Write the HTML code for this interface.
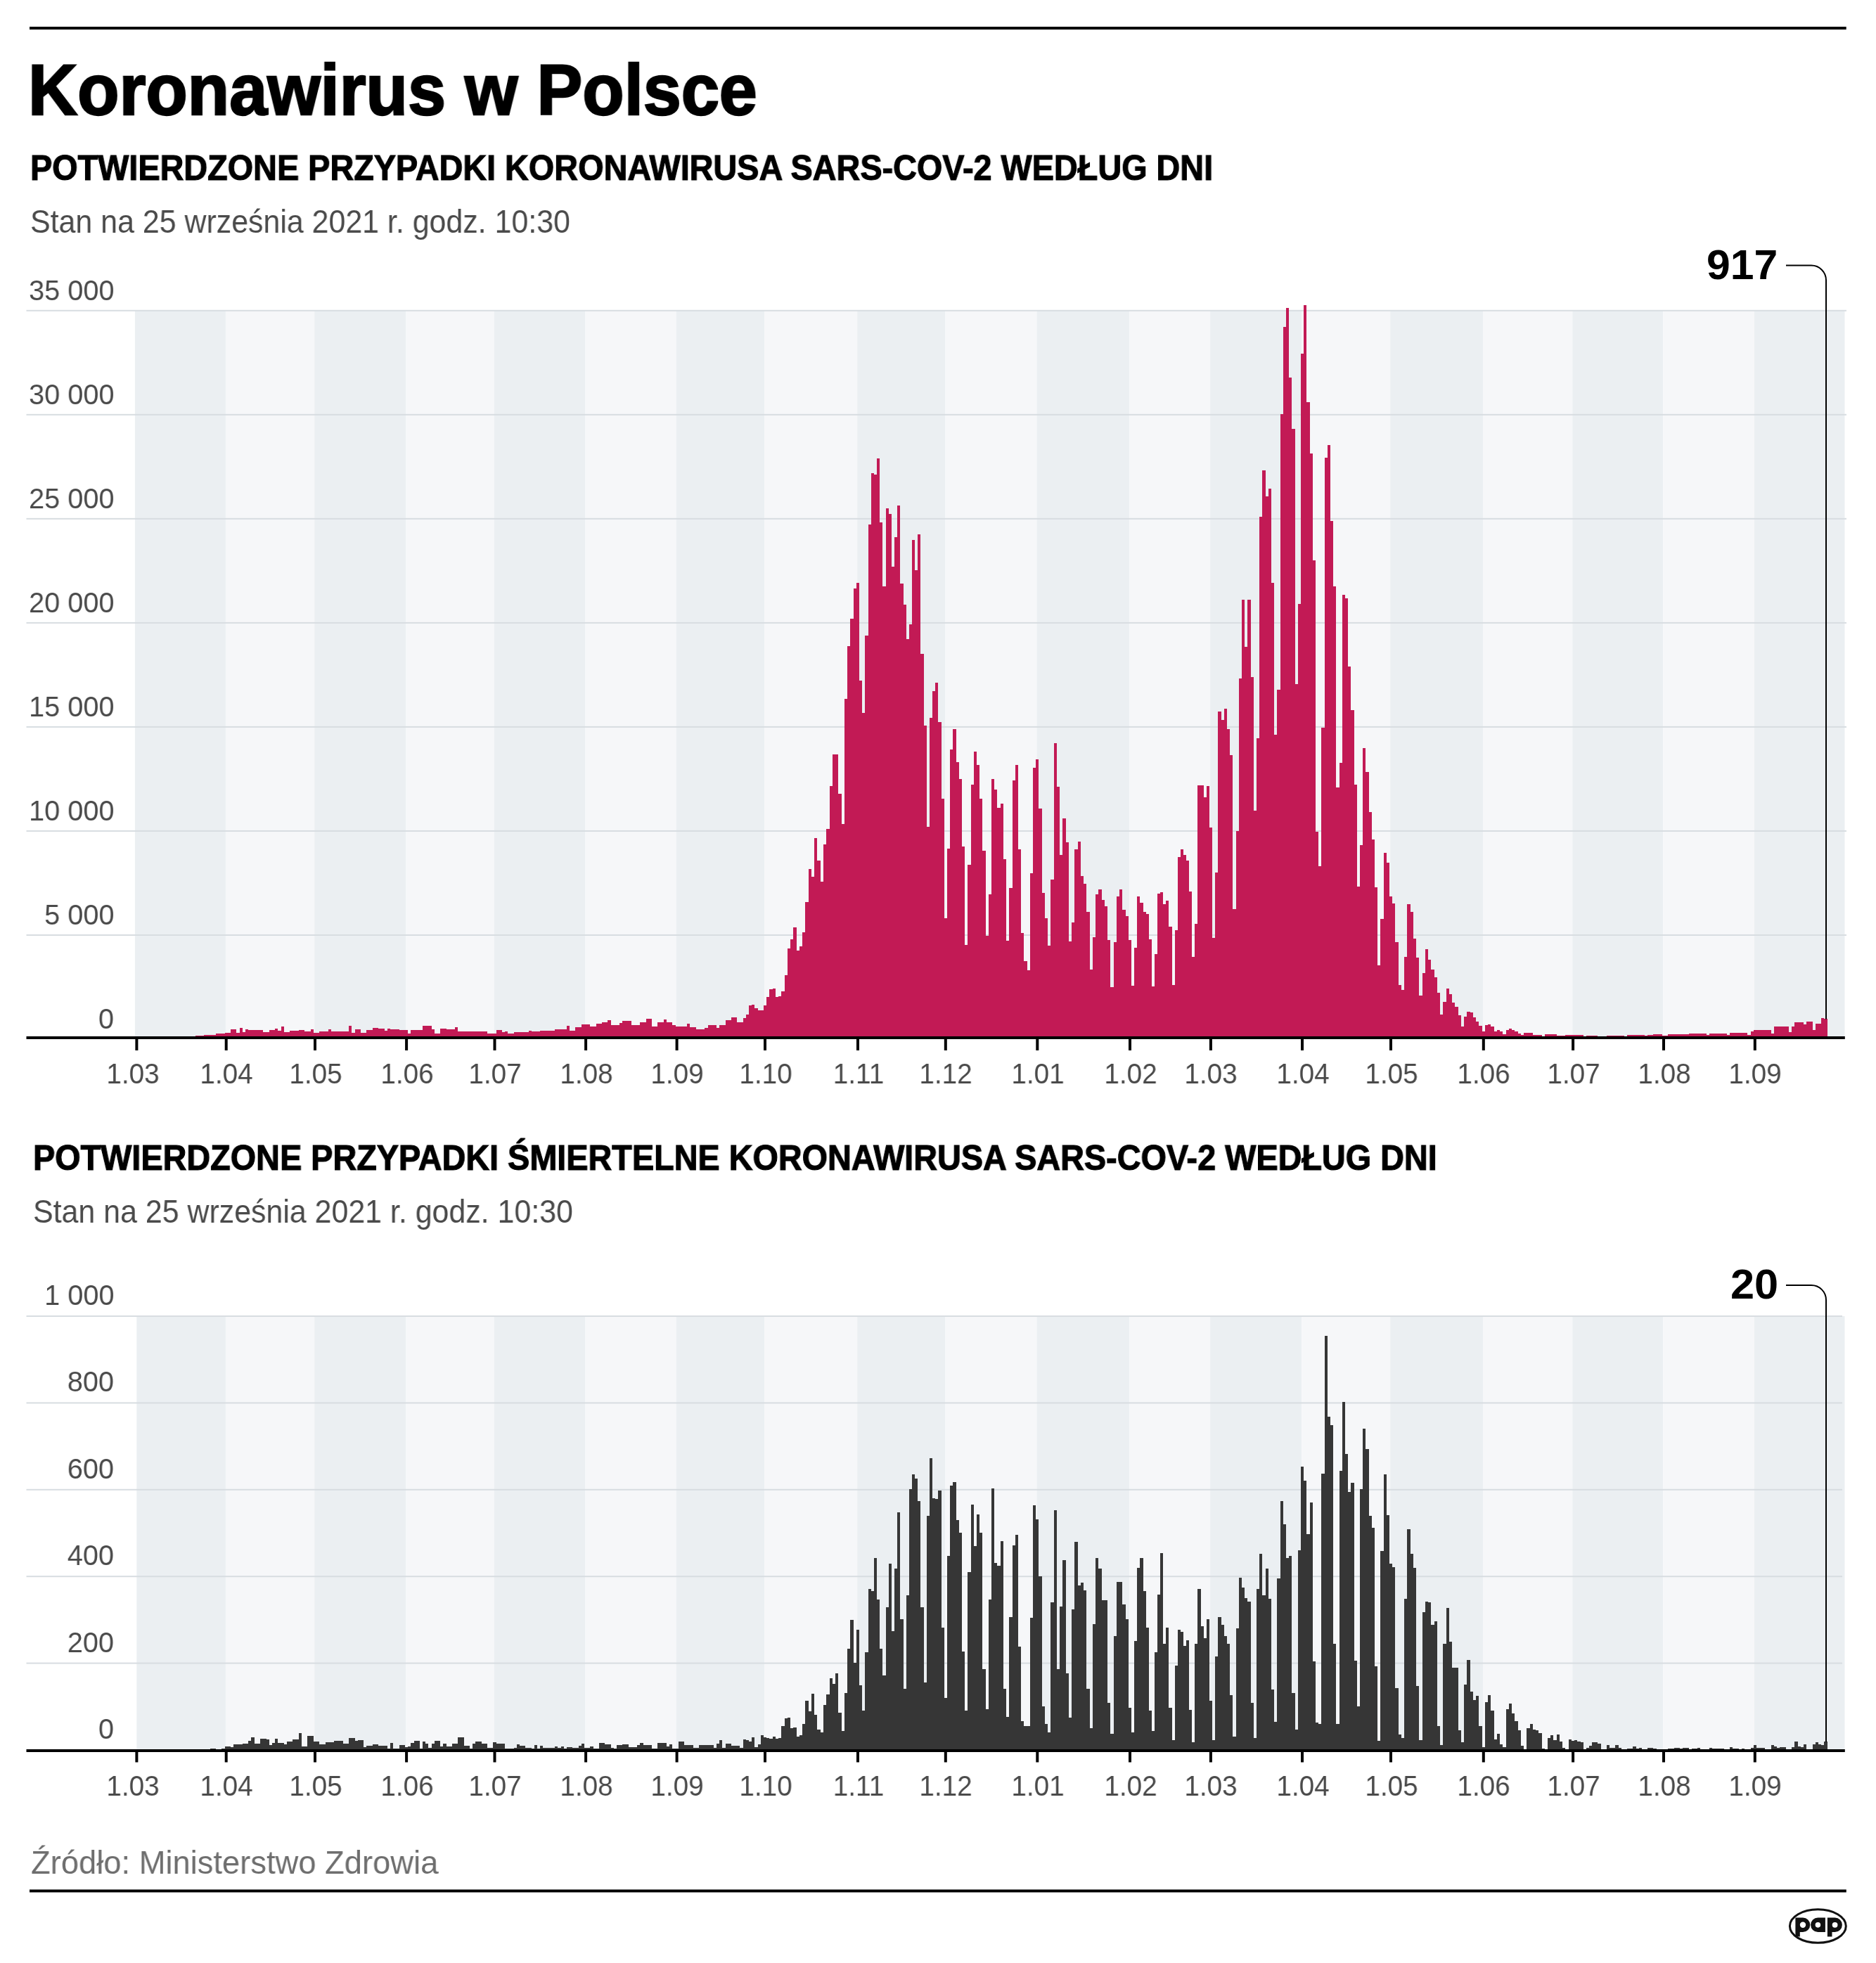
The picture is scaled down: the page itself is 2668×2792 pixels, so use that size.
<!DOCTYPE html>
<html><head><meta charset="utf-8"><style>
html,body{margin:0;padding:0;background:#fff;width:2668px;height:2792px;overflow:hidden}
svg{position:absolute;left:0;top:0}
.t{position:absolute;white-space:nowrap;font-family:"Liberation Sans",sans-serif;line-height:1;will-change:transform}
</style></head><body>
<svg width="2668" height="2792" viewBox="0 0 2668 2792">
<rect x="42" y="38" width="2583.7" height="4" fill="#000"/>
<rect x="42" y="2687.5" width="2583.8" height="4" fill="#000"/>
<rect x="191.90" y="441.80" width="129.00" height="1032.20" fill="#ebeff2"/>
<rect x="320.90" y="441.80" width="126.30" height="1032.20" fill="#f6f7f9"/>
<rect x="447.20" y="441.80" width="130.10" height="1032.20" fill="#ebeff2"/>
<rect x="577.30" y="441.80" width="125.40" height="1032.20" fill="#f6f7f9"/>
<rect x="702.70" y="441.80" width="129.60" height="1032.20" fill="#ebeff2"/>
<rect x="832.30" y="441.80" width="129.50" height="1032.20" fill="#f6f7f9"/>
<rect x="961.80" y="441.80" width="125.40" height="1032.20" fill="#ebeff2"/>
<rect x="1087.20" y="441.80" width="132.00" height="1032.20" fill="#f6f7f9"/>
<rect x="1219.20" y="441.80" width="124.80" height="1032.20" fill="#ebeff2"/>
<rect x="1344.00" y="441.80" width="130.50" height="1032.20" fill="#f6f7f9"/>
<rect x="1474.50" y="441.80" width="131.70" height="1032.20" fill="#ebeff2"/>
<rect x="1606.20" y="441.80" width="114.90" height="1032.20" fill="#f6f7f9"/>
<rect x="1721.10" y="441.80" width="130.10" height="1032.20" fill="#ebeff2"/>
<rect x="1851.20" y="441.80" width="126.00" height="1032.20" fill="#f6f7f9"/>
<rect x="1977.20" y="441.80" width="131.80" height="1032.20" fill="#ebeff2"/>
<rect x="2109.00" y="441.80" width="127.30" height="1032.20" fill="#f6f7f9"/>
<rect x="2236.30" y="441.80" width="128.90" height="1032.20" fill="#ebeff2"/>
<rect x="2365.20" y="441.80" width="129.80" height="1032.20" fill="#f6f7f9"/>
<rect x="2495.00" y="441.80" width="128.50" height="1032.20" fill="#ebeff2"/>
<rect x="37.5" y="440.80" width="2588.50" height="2" fill="#d8dde1"/>
<rect x="37.5" y="588.83" width="2588.50" height="2" fill="#d8dde1"/>
<rect x="37.5" y="736.86" width="2588.50" height="2" fill="#d8dde1"/>
<rect x="37.5" y="884.89" width="2588.50" height="2" fill="#d8dde1"/>
<rect x="37.5" y="1032.92" width="2588.50" height="2" fill="#d8dde1"/>
<rect x="37.5" y="1180.95" width="2588.50" height="2" fill="#d8dde1"/>
<rect x="37.5" y="1328.98" width="2588.50" height="2" fill="#d8dde1"/>
<path d="M189.80 1478.00V1478.00H194.00V1478.00H198.18V1478.00H202.37V1478.00H206.56V1478.00H210.75V1478.00H214.93V1478.00H219.12V1478.00H223.31V1478.00H227.49V1478.00H231.68V1478.00H235.87V1478.00H240.06V1478.00H244.24V1478.00H248.43V1478.00H252.62V1478.00H256.80V1478.00H260.99V1478.00H265.18V1478.00H269.37V1478.00H273.55V1478.00H277.74V1472.72H281.93V1472.72H286.11V1472.72H290.30V1471.52H294.49V1471.52H298.68V1471.52H302.86V1471.52H307.05V1469.84H311.24V1469.84H315.42V1469.84H319.61V1469.12H323.80V1469.12H328.01V1464.33H332.22V1464.33H336.43V1469.12H340.64V1461.93H344.85V1467.93H349.06V1463.85H353.27V1464.81H357.48V1464.81H361.69V1464.81H365.90V1464.81H370.11V1464.81H374.32V1467.93H378.53V1467.93H382.74V1465.05H386.95V1465.05H391.16V1462.65H395.37V1465.53H399.58V1460.25H403.79V1467.93H408.00V1467.93H412.21V1465.53H416.42V1465.53H420.63V1465.53H424.84V1464.81H429.05V1464.81H433.26V1467.21H437.47V1467.21H441.68V1463.85H445.89V1469.12H450.10V1469.12H454.29V1466.73H458.49V1466.73H462.69V1466.73H466.88V1463.85H471.08V1466.73H475.28V1466.73H479.48V1466.73H483.67V1466.73H487.87V1466.73H492.07V1466.73H496.26V1458.81H500.46V1468.65H504.66V1463.85H508.85V1463.85H513.05V1468.65H517.25V1468.65H521.44V1464.81H525.64V1464.81H529.84V1462.41H534.03V1462.41H538.23V1463.13H542.43V1463.13H546.62V1465.53H550.82V1463.13H555.02V1464.33H559.21V1464.33H563.41V1464.33H567.61V1465.05H571.80V1465.05H576.00V1465.05H580.20V1470.32H584.38V1464.81H588.56V1464.81H592.74V1465.05H596.92V1465.05H601.10V1458.81H605.28V1458.81H609.46V1458.81H613.64V1464.33H617.82V1470.32H622.00V1470.32H626.18V1463.13H630.36V1463.13H634.54V1464.33H638.72V1464.33H642.90V1464.33H647.08V1461.21H651.26V1467.21H655.44V1467.21H659.62V1467.21H663.80V1467.21H667.98V1467.45H672.16V1467.45H676.34V1467.45H680.52V1467.45H684.70V1467.45H688.88V1466.73H693.06V1469.60H697.24V1469.60H701.42V1469.60H705.60V1465.05H709.78V1465.05H713.96V1467.93H718.14V1467.21H722.32V1469.60H726.50V1469.60H730.68V1467.93H734.86V1467.93H739.04V1467.93H743.22V1467.93H747.40V1467.93H751.58V1465.53H755.77V1467.45H759.95V1467.45H764.13V1467.45H768.31V1466.01H772.49V1466.01H776.67V1466.01H780.85V1466.01H785.03V1466.01H789.21V1463.85H793.39V1463.85H797.57V1463.85H801.75V1463.85H805.93V1459.05H810.11V1465.53H814.29V1465.53H818.48V1461.21H822.66V1461.21H826.84V1457.13H831.02V1457.13H835.20V1457.13H839.38V1459.53H843.55V1459.53H847.73V1455.93H851.91V1455.93H856.08V1453.53H860.26V1453.53H864.44V1451.13H868.62V1457.85H872.79V1457.85H876.97V1457.85H881.15V1454.73H885.33V1451.85H889.50V1451.85H893.68V1451.85H897.86V1458.33H902.04V1458.33H906.21V1458.33H910.39V1454.25H914.57V1454.25H918.75V1449.46H922.92V1449.46H927.10V1459.53H931.28V1459.53H935.46V1454.25H939.63V1454.25H943.81V1450.42H947.99V1453.53H952.17V1453.53H956.34V1457.61H960.52V1459.53H964.70V1459.53H968.88V1459.53H973.06V1459.53H977.24V1455.93H981.42V1460.73H985.60V1460.73H989.78V1464.33H993.96V1464.33H998.14V1464.33H1002.32V1461.93H1006.50V1458.33H1010.68V1458.33H1014.86V1458.33H1019.04V1461.93H1023.22V1457.85H1027.40V1457.85H1031.58V1451.13H1035.76V1451.13H1039.94V1446.82H1044.12V1446.82H1048.30V1454.25H1052.48V1454.25H1056.66V1447.54H1060.84V1442.74H1065.02V1429.55H1069.20V1428.85H1073.38V1434.18H1077.56V1436.85H1081.74V1436.85H1085.92V1429.68H1090.10V1417.51H1094.36V1407.18H1098.61V1406.38H1102.87V1418.31H1107.13V1416.98H1111.39V1409.55H1115.65V1386.52H1119.90V1349.42H1124.16V1336.19H1128.42V1319.49H1132.68V1352.09H1136.94V1345.99H1141.19V1326.09H1145.45V1282.66H1149.71V1236.30H1153.97V1247.43H1158.23V1191.80H1162.48V1223.60H1166.74V1254.06H1171.00V1201.07H1175.26V1178.83H1179.52V1118.17H1183.78V1073.14H1188.03V1073.14H1192.29V1128.50H1196.55V1171.93H1200.81V993.65H1205.07V919.48H1209.32V879.75H1213.58V836.56H1217.84V828.59H1222.10V967.98H1226.26V1014.31H1230.42V903.58H1234.58V745.67H1238.74V673.07H1242.90V674.94H1247.06V651.61H1251.22V743.03H1255.38V833.89H1259.54V722.63H1263.70V730.57H1267.86V805.56H1272.02V764.23H1276.18V719.44H1280.34V829.92H1284.50V860.39H1288.66V909.42H1292.82V888.22H1296.98V767.66H1301.14V811.36H1305.30V760.23H1309.46V930.08H1313.62V1031.54H1317.78V1175.90H1321.94V1021.48H1326.10V982.54H1330.26V971.15H1334.42V1027.04H1338.58V1136.17H1342.74V1305.72H1346.90V1206.90H1351.11V1065.97H1355.32V1037.37H1359.53V1083.74H1363.74V1108.37H1367.95V1204.26H1372.16V1344.12H1376.37V1230.23H1380.58V1116.30H1384.78V1069.14H1388.99V1088.47H1393.20V1135.64H1397.41V1210.33H1401.62V1330.86H1405.83V1271.79H1410.04V1107.57H1414.25V1122.94H1418.46V1149.40H1422.67V1142.80H1426.88V1222.26H1431.09V1338.29H1435.30V1263.33H1439.51V1110.47H1443.72V1088.47H1447.93V1207.70H1452.14V1326.89H1456.35V1367.42H1460.56V1379.89H1464.77V1242.13H1468.98V1092.47H1473.19V1079.74H1477.40V1150.20H1481.65V1270.46H1485.89V1305.70H1490.14V1344.64H1494.39V1250.60H1498.64V1057.22H1502.89V1119.47H1507.14V1215.63H1511.38V1163.97H1515.63V1197.62H1519.88V1339.34H1524.13V1311.52H1528.38V1208.21H1532.63V1197.09H1536.88V1245.56H1541.12V1257.22H1545.37V1296.95H1549.62V1379.07H1553.87V1332.98H1558.12V1271.79H1562.37V1264.64H1566.61V1280.00H1570.86V1289.01H1575.11V1337.48H1579.36V1404.24H1583.61V1339.60H1587.86V1275.23H1592.10V1264.64H1596.35V1294.30H1600.60V1303.05H1604.85V1336.95H1609.10V1401.85H1613.20V1348.08H1617.30V1275.23H1621.41V1283.71H1625.51V1296.95H1629.62V1299.60H1633.72V1336.16H1637.82V1403.18H1641.93V1356.56H1646.03V1271.26H1650.13V1269.14H1654.24V1286.36H1658.34V1281.32H1662.44V1318.15H1666.55V1400.53H1670.65V1322.91H1674.75V1219.07H1678.86V1208.21H1682.96V1216.42H1687.07V1224.37H1691.17V1268.08H1695.27V1360.53H1699.38V1313.64H1703.48V1116.82H1707.58V1116.82H1711.69V1134.30H1715.79V1118.41H1719.89V1177.22H1724.00V1334.30H1728.19V1241.32H1732.39V1012.19H1736.59V1024.37H1740.78V1008.21H1744.98V1036.82H1749.18V1074.44H1753.38V1292.98H1757.57V1181.72H1761.77V964.77H1765.97V853.25H1770.16V919.99H1774.36V853.25H1778.56V962.86H1782.75V1153.37H1786.95V1050.07H1791.15V734.83H1795.34V669.13H1799.54V706.23H1803.74V694.80H1807.93V829.39H1812.13V1044.81H1816.33V980.62H1820.52V588.87H1824.72V465.15H1828.92V437.56H1833.11V536.68H1837.31V610.31H1841.51V973.25H1845.70V858.52H1849.90V503.04H1854.10V434.36H1858.30V571.91H1862.50V645.30H1866.70V797.09H1870.90V1182.50H1875.10V1231.53H1879.30V1034.98H1883.50V651.10H1887.70V633.37H1891.90V740.66H1896.10V833.89H1900.30V1120.27H1904.50V1084.51H1908.70V846.09H1912.90V851.12H1917.10V948.05H1921.30V1009.54H1925.50V1116.29H1929.70V1260.66H1933.90V1202.38H1938.10V1064.11H1942.30V1098.28H1946.50V1154.70H1950.70V1194.44H1954.90V1261.99H1959.10V1373.25H1963.30V1307.02H1967.50V1212.98H1971.70V1227.02H1975.90V1275.23H1980.10V1284.50H1984.35V1340.13H1988.60V1401.06H1992.85V1407.68H1997.10V1360.79H2001.36V1286.36H2005.61V1296.95H2009.86V1334.83H2014.11V1362.12H2018.36V1415.63H2022.61V1384.37H2026.87V1349.93H2031.12V1365.30H2035.37V1378.54H2039.62V1390.46H2043.87V1411.66H2048.12V1443.44H2052.38V1424.90H2056.63V1406.36H2060.88V1414.30H2065.13V1426.23H2069.38V1431.52H2073.63V1444.24H2077.88V1460.13H2082.14V1446.09H2086.39V1438.94H2090.64V1440.00H2094.89V1447.42H2099.14V1452.72H2103.39V1459.34H2107.65V1467.28H2111.90V1458.01H2116.14V1456.69H2120.38V1460.13H2124.63V1467.28H2128.87V1464.64H2133.11V1467.28H2137.36V1471.26H2141.60V1464.64H2145.84V1463.31H2150.09V1464.64H2154.33V1466.75H2158.57V1469.54H2162.82V1471.99H2167.06V1469.05H2171.30V1469.05H2175.55V1469.05H2179.79V1471.50H2184.03V1471.50H2188.28V1471.50H2192.52V1473.95H2196.76V1471.01H2201.01V1471.01H2205.25V1471.01H2209.49V1471.01H2213.74V1473.46H2217.98V1473.46H2222.22V1473.46H2226.47V1472.48H2230.71V1472.48H2234.95V1472.48H2239.20V1472.48H2243.36V1472.48H2247.51V1472.48H2251.67V1473.95H2255.83V1472.97H2259.99V1472.97H2264.15V1472.97H2268.30V1472.97H2272.46V1473.95H2276.62V1473.95H2280.78V1473.95H2284.94V1472.97H2289.09V1472.97H2293.25V1472.97H2297.41V1472.97H2301.57V1472.97H2305.73V1472.97H2309.88V1473.95H2314.04V1472.24H2318.20V1472.24H2322.36V1472.24H2326.52V1472.24H2330.68V1472.24H2334.83V1472.24H2338.99V1473.46H2343.15V1472.24H2347.31V1472.24H2351.47V1471.01H2355.62V1471.01H2359.78V1471.01H2363.94V1472.97H2368.10V1472.97H2372.28V1471.01H2376.47V1471.01H2380.66V1471.01H2384.85V1471.01H2389.03V1471.01H2393.22V1471.01H2397.41V1471.01H2401.59V1470.03H2405.78V1470.03H2409.97V1470.03H2414.16V1470.03H2418.34V1470.03H2422.53V1470.03H2426.72V1471.99H2430.90V1470.03H2435.09V1470.03H2439.28V1470.03H2443.47V1470.03H2447.65V1470.03H2451.84V1470.03H2456.03V1472.48H2460.21V1468.56H2464.40V1468.56H2468.59V1468.56H2472.78V1468.56H2476.96V1468.56H2481.15V1468.56H2485.34V1471.50H2489.52V1466.60H2493.71V1464.88H2497.90V1464.88H2502.09V1464.88H2506.29V1464.88H2510.48V1464.88H2514.68V1464.88H2518.88V1470.28H2523.07V1460.47H2527.27V1460.47H2531.46V1460.47H2535.66V1460.47H2539.85V1460.47H2544.05V1467.82H2548.25V1459.73H2552.44V1453.60H2556.64V1453.60H2560.83V1453.60H2565.03V1456.79H2569.22V1452.62H2573.42V1452.62H2577.62V1465.37H2581.81V1455.56H2586.01V1455.56H2590.20V1448.20H2594.40V1449.43H2598.59V1478.00Z" fill="#c21a55" shape-rendering="crispEdges"/>
<rect x="37.5" y="1474.00" width="2586.30" height="4" fill="#000"/>
<rect x="192.40" y="1478.00" width="4" height="16.00" fill="#000"/>
<rect x="319.70" y="1478.00" width="4" height="16.00" fill="#000"/>
<rect x="446.00" y="1478.00" width="4" height="16.00" fill="#000"/>
<rect x="576.10" y="1478.00" width="4" height="16.00" fill="#000"/>
<rect x="701.50" y="1478.00" width="4" height="16.00" fill="#000"/>
<rect x="831.10" y="1478.00" width="4" height="16.00" fill="#000"/>
<rect x="960.60" y="1478.00" width="4" height="16.00" fill="#000"/>
<rect x="1086.00" y="1478.00" width="4" height="16.00" fill="#000"/>
<rect x="1218.00" y="1478.00" width="4" height="16.00" fill="#000"/>
<rect x="1342.80" y="1478.00" width="4" height="16.00" fill="#000"/>
<rect x="1473.30" y="1478.00" width="4" height="16.00" fill="#000"/>
<rect x="1605.00" y="1478.00" width="4" height="16.00" fill="#000"/>
<rect x="1719.90" y="1478.00" width="4" height="16.00" fill="#000"/>
<rect x="1850.00" y="1478.00" width="4" height="16.00" fill="#000"/>
<rect x="1976.00" y="1478.00" width="4" height="16.00" fill="#000"/>
<rect x="2107.80" y="1478.00" width="4" height="16.00" fill="#000"/>
<rect x="2235.10" y="1478.00" width="4" height="16.00" fill="#000"/>
<rect x="2364.00" y="1478.00" width="4" height="16.00" fill="#000"/>
<rect x="2493.80" y="1478.00" width="4" height="16.00" fill="#000"/>
<rect x="194.30" y="1872.00" width="126.60" height="616.00" fill="#ebeff2"/>
<rect x="320.90" y="1872.00" width="126.30" height="616.00" fill="#f6f7f9"/>
<rect x="447.20" y="1872.00" width="130.10" height="616.00" fill="#ebeff2"/>
<rect x="577.30" y="1872.00" width="125.40" height="616.00" fill="#f6f7f9"/>
<rect x="702.70" y="1872.00" width="129.60" height="616.00" fill="#ebeff2"/>
<rect x="832.30" y="1872.00" width="129.50" height="616.00" fill="#f6f7f9"/>
<rect x="961.80" y="1872.00" width="125.40" height="616.00" fill="#ebeff2"/>
<rect x="1087.20" y="1872.00" width="132.00" height="616.00" fill="#f6f7f9"/>
<rect x="1219.20" y="1872.00" width="124.80" height="616.00" fill="#ebeff2"/>
<rect x="1344.00" y="1872.00" width="130.50" height="616.00" fill="#f6f7f9"/>
<rect x="1474.50" y="1872.00" width="131.70" height="616.00" fill="#ebeff2"/>
<rect x="1606.20" y="1872.00" width="114.90" height="616.00" fill="#f6f7f9"/>
<rect x="1721.10" y="1872.00" width="130.10" height="616.00" fill="#ebeff2"/>
<rect x="1851.20" y="1872.00" width="126.00" height="616.00" fill="#f6f7f9"/>
<rect x="1977.20" y="1872.00" width="131.80" height="616.00" fill="#ebeff2"/>
<rect x="2109.00" y="1872.00" width="127.30" height="616.00" fill="#f6f7f9"/>
<rect x="2236.30" y="1872.00" width="128.90" height="616.00" fill="#ebeff2"/>
<rect x="2365.20" y="1872.00" width="129.80" height="616.00" fill="#f6f7f9"/>
<rect x="2495.00" y="1872.00" width="128.50" height="616.00" fill="#ebeff2"/>
<rect x="37.5" y="1871.00" width="2582.50" height="2" fill="#d8dde1"/>
<rect x="37.5" y="1994.40" width="2582.50" height="2" fill="#d8dde1"/>
<rect x="37.5" y="2117.80" width="2582.50" height="2" fill="#d8dde1"/>
<rect x="37.5" y="2241.20" width="2582.50" height="2" fill="#d8dde1"/>
<rect x="37.5" y="2364.60" width="2582.50" height="2" fill="#d8dde1"/>
<path d="M189.80 2489.00V2489.00H194.00V2489.00H198.18V2489.00H202.37V2489.00H206.56V2489.00H210.75V2489.00H214.93V2489.00H219.12V2489.00H223.31V2489.00H227.49V2489.00H231.68V2489.00H235.87V2489.00H240.06V2489.00H244.24V2489.00H248.43V2489.00H252.62V2489.00H256.80V2489.00H260.99V2489.00H265.18V2489.00H269.37V2489.00H273.55V2489.00H277.74V2489.00H281.93V2489.00H286.11V2489.00H290.30V2489.00H294.49V2489.00H298.68V2487.08H302.86V2487.08H307.05V2489.00H311.24V2489.00H315.42V2487.08H319.61V2484.20H323.80V2484.20H328.01V2485.16H332.22V2481.08H336.43V2481.08H340.64V2481.08H344.85V2480.36H349.06V2480.36H353.27V2475.57H357.48V2471.25H361.69V2480.36H365.90V2480.36H370.11V2473.17H374.32V2473.17H378.53V2474.37H382.74V2481.56H386.95V2479.16H391.16V2472.69H395.37V2479.16H399.58V2479.16H403.79V2481.08H408.00V2477.25H412.21V2477.25H416.42V2474.37H420.63V2474.37H424.84V2465.25H429.05V2483.96H433.26V2483.96H437.47V2468.85H441.68V2468.85H445.89V2477.49H450.10V2477.49H454.29V2481.08H458.49V2481.08H462.69V2477.97H466.88V2477.97H471.08V2477.97H475.28V2476.05H479.48V2476.05H483.67V2476.05H487.87V2480.36H492.07V2480.36H496.26V2472.45H500.46V2472.45H504.66V2475.57H508.85V2474.85H513.05V2474.85H517.25V2484.68H521.44V2482.76H525.64V2482.76H529.84V2481.08H534.03V2481.08H538.23V2483.24H542.43V2483.24H546.62V2483.24H550.82V2487.08H555.02V2479.16H559.21V2487.08H563.41V2487.08H567.61V2481.56H571.80V2481.56H576.00V2484.68H580.20V2483.96H584.38V2479.16H588.56V2475.57H592.74V2475.57H596.92V2487.08H601.10V2477.25H605.28V2480.36H609.46V2485.88H613.64V2480.36H617.82V2475.57H622.00V2475.57H626.18V2483.96H630.36V2480.36H634.54V2483.96H638.72V2483.96H642.90V2480.36H647.08V2480.36H651.26V2471.25H655.44V2471.25H659.62V2482.76H663.80V2482.76H667.98V2487.08H672.16V2480.36H676.34V2477.25H680.52V2477.25H684.70V2479.64H688.88V2479.64H693.06V2486.36H697.24V2485.64H701.42V2477.97H705.60V2480.36H709.78V2480.36H713.96V2480.36H718.14V2486.84H722.32V2486.84H726.50V2486.84H730.68V2485.64H734.86V2480.84H739.04V2483.24H743.22V2483.24H747.40V2486.36H751.58V2486.36H755.77V2486.84H759.95V2482.28H764.13V2486.60H768.31V2482.76H772.49V2485.64H776.67V2485.64H780.85V2485.64H785.03V2485.64H789.21V2483.96H793.39V2485.64H797.57V2484.44H801.75V2486.60H805.93V2484.68H810.11V2484.68H814.29V2486.12H818.48V2486.12H822.66V2483.24H826.84V2480.36H831.02V2485.64H835.20V2485.64H839.38V2483.96H843.55V2486.84H847.73V2486.84H851.91V2478.68H856.08V2478.68H860.26V2481.08H864.44V2481.08H868.62V2485.64H872.79V2486.84H876.97V2482.28H881.15V2482.28H885.33V2480.84H889.50V2480.84H893.68V2484.68H897.86V2484.68H902.04V2484.68H906.21V2481.56H910.39V2479.16H914.57V2481.56H918.75V2481.56H922.92V2481.56H927.10V2486.84H931.28V2486.84H935.46V2479.16H939.63V2479.16H943.81V2479.16H947.99V2483.96H952.17V2481.08H956.34V2486.60H960.52V2486.60H964.70V2477.49H968.88V2477.49H973.06V2481.56H977.24V2482.04H981.42V2482.04H985.60V2486.36H989.78V2486.36H993.96V2482.28H998.14V2482.28H1002.32V2482.28H1006.50V2482.28H1010.68V2481.56H1014.86V2485.64H1019.04V2480.36H1023.22V2474.85H1027.40V2486.36H1031.58V2479.64H1035.76V2479.64H1039.94V2482.76H1044.12V2482.76H1048.30V2482.76H1052.48V2486.36H1056.66V2473.63H1060.84V2475.18H1065.02V2476.74H1069.20V2470.52H1073.38V2484.51H1077.56V2481.40H1081.74V2468.34H1085.92V2471.45H1090.10V2472.07H1094.36V2473.01H1098.61V2469.59H1102.87V2473.01H1107.13V2472.07H1111.39V2454.98H1115.65V2444.10H1119.90V2443.48H1124.16V2458.09H1128.42V2457.47H1132.68V2469.90H1136.94V2468.34H1141.19V2451.87H1145.45V2419.24H1149.71V2433.85H1153.97V2408.98H1158.23V2438.51H1162.48V2459.64H1166.74V2464.30H1171.00V2424.52H1175.26V2409.91H1179.52V2386.60H1183.78V2395.31H1188.03V2380.39H1192.29V2436.33H1196.55V2461.82H1200.81V2408.36H1205.07V2344.65H1209.32V2304.24H1213.58V2364.85H1217.84V2317.61H1222.10V2396.86H1226.26V2433.22H1230.42V2350.24H1234.58V2259.80H1238.74V2262.91H1242.90V2215.66H1247.06V2274.72H1251.22V2344.65H1255.38V2382.87H1259.54V2286.22H1263.70V2224.37H1267.86V2319.78H1272.02V2231.20H1276.18V2151.33H1280.34V2303.31H1284.50V2401.52H1288.66V2269.43H1292.82V2117.76H1296.98V2096.63H1301.14V2102.84H1305.30V2135.48H1309.46V2286.22H1313.62V2393.44H1317.78V2155.99H1321.94V2073.63H1326.10V2131.13H1330.26V2131.75H1334.42V2120.25H1338.58V2315.12H1342.74V2414.58H1346.90V2212.56H1351.11V2113.10H1355.32V2107.82H1359.53V2161.90H1363.74V2179.92H1367.95V2349.31H1372.16V2433.22H1376.37V2236.49H1380.58V2139.52H1384.78V2198.57H1388.99V2154.13H1393.20V2179.92H1397.41V2373.55H1401.62V2430.74H1405.83V2274.72H1410.04V2116.83H1414.25V2223.43H1418.46V2226.54H1422.67V2191.73H1426.88V2401.52H1431.09V2441.93H1435.30V2299.58H1439.51V2197.95H1443.72V2183.03H1447.93V2342.16H1452.14V2447.83H1456.35V2454.98H1460.56V2454.98H1464.77V2300.51H1468.98V2141.07H1473.19V2161.27H1477.40V2242.08H1481.65V2427.01H1485.89V2451.87H1490.14V2464.30H1494.39V2279.38H1498.64V2147.91H1502.89V2374.17H1507.14V2284.66H1511.38V2219.39H1515.63V2380.39H1519.88V2443.17H1524.13V2288.70H1528.38V2192.98H1532.63V2254.51H1536.88V2251.41H1541.12V2262.28H1545.37V2402.14H1549.62V2458.09H1553.87V2310.46H1558.12V2216.29H1562.37V2231.20H1566.61V2276.27H1570.86V2276.27H1575.11V2422.35H1579.36V2465.86H1583.61V2326.93H1587.86V2249.85H1592.10V2249.85H1596.35V2282.49H1600.60V2302.69H1604.85V2429.49H1609.10V2463.68H1613.20V2333.77H1617.30V2229.65H1621.41V2215.66H1625.51V2262.91H1629.62V2315.12H1633.72V2432.60H1637.82V2461.82H1641.93V2349.93H1646.03V2267.57H1650.13V2208.52H1654.24V2337.50H1658.34V2314.50H1662.44V2429.49H1666.55V2474.56H1670.65V2368.89H1674.75V2317.61H1678.86V2320.71H1682.96V2340.92H1687.07V2333.15H1691.17V2431.67H1695.27V2478.29H1699.38V2337.50H1703.48V2259.80H1707.58V2312.94H1711.69V2329.73H1715.79V2302.69H1719.89V2419.24H1724.00V2474.56H1728.19V2356.46H1732.39V2299.58H1736.59V2311.39H1740.78V2326.93H1744.98V2338.43H1749.18V2411.47H1753.38V2469.59H1757.57V2315.74H1761.77V2244.26H1765.97V2257.62H1770.16V2273.16H1774.36V2278.45H1778.56V2421.72H1782.75V2472.07H1786.95V2259.80H1791.15V2210.07H1795.34V2269.43H1799.54V2231.20H1803.74V2274.09H1807.93V2403.08H1812.13V2449.39H1816.33V2245.19H1820.52V2134.86H1824.72V2168.42H1828.92V2215.66H1833.11V2213.49H1837.31V2408.36H1841.51V2459.64H1845.70V2204.79H1849.90V2085.75H1854.10V2106.26H1858.30V2182.10H1862.50V2137.34H1866.70V2363.29H1870.90V2450.32H1875.10V2451.87H1879.30V2096.01H1883.50V1900.20H1887.70V2015.20H1891.90V2027.01H1896.10V2338.43H1900.30V2451.87H1904.50V2092.28H1908.70V1994.06H1912.90V2068.03H1917.10V2121.80H1921.30V2109.37H1925.50V2361.74H1929.70V2427.01H1933.90V2118.38H1938.10V2032.29H1942.30V2061.20H1946.50V2155.99H1950.70V2172.77H1954.90V2370.44H1959.10V2476.11H1963.30V2205.72H1967.50V2096.94H1971.70V2155.06H1975.90V2224.37H1980.10V2228.72H1984.35V2400.59H1988.60V2466.79H1992.85V2472.07H1997.10V2274.09H2001.36V2174.64H2005.61V2210.07H2009.86V2229.65H2014.11V2398.41H2018.36V2475.18H2022.61V2292.74H2026.87V2277.82H2031.12V2278.76H2035.37V2311.08H2039.62V2305.80H2043.87V2454.98H2048.12V2482.33H2052.38V2338.43H2056.63V2286.53H2060.88V2335.32H2065.13V2372.00H2069.38V2372.00H2073.63V2461.20H2077.88V2478.29H2082.14V2395.93H2086.39V2361.12H2090.64V2406.18H2094.89V2417.68H2099.14V2412.40H2103.39V2454.98H2107.65V2484.51H2111.90V2421.41H2116.14V2410.85H2120.38V2433.22H2124.63V2474.25H2128.87V2465.86H2133.11V2481.40H2137.36V2484.51H2141.60V2431.05H2145.84V2423.28H2150.09V2437.26H2154.33V2448.14H2158.57V2460.57H2162.82V2482.95H2167.06V2487.61H2171.30V2458.09H2175.55V2451.87H2179.79V2459.64H2184.03V2460.57H2188.28V2464.93H2192.52V2486.68H2196.76V2487.61H2201.01V2472.07H2205.25V2468.34H2209.49V2475.18H2213.74V2467.41H2217.98V2476.74H2222.22V2486.06H2226.47V2487.61H2230.71V2473.63H2234.95V2476.11H2239.20V2475.18H2243.36V2476.74H2247.51V2478.29H2251.67V2487.61H2255.83V2486.06H2259.99V2482.95H2264.15V2478.07H2268.30V2478.07H2272.46V2479.82H2276.62V2487.91H2280.78V2487.91H2284.94V2482.01H2289.09V2486.38H2293.25V2486.38H2297.41V2481.57H2301.57V2485.72H2305.73V2487.91H2309.88V2487.91H2314.04V2487.47H2318.20V2487.47H2322.36V2484.19H2326.52V2487.25H2330.68V2486.38H2334.83V2487.91H2338.99V2487.91H2343.15V2485.50H2347.31V2485.50H2351.47V2486.81H2355.62V2487.91H2359.78V2487.91H2363.94V2487.91H2368.10V2487.91H2372.28V2487.25H2376.47V2487.25H2380.66V2486.38H2384.85V2486.38H2389.03V2487.25H2393.22V2486.38H2397.41V2486.38H2401.59V2487.91H2405.78V2487.47H2409.97V2487.47H2414.16V2486.38H2418.34V2487.91H2422.53V2487.91H2426.72V2487.91H2430.90V2485.72H2435.09V2487.47H2439.28V2487.25H2443.47V2487.25H2447.65V2487.25H2451.84V2487.91H2456.03V2487.91H2460.21V2485.28H2464.40V2487.25H2468.59V2487.25H2472.78V2487.91H2476.96V2486.81H2481.15V2487.91H2485.34V2487.91H2489.52V2486.38H2493.71V2482.01H2497.90V2485.72H2502.09V2485.72H2506.29V2485.72H2510.48V2487.91H2514.68V2487.91H2518.88V2482.01H2523.07V2483.54H2527.27V2486.38H2531.46V2485.07H2535.66V2485.07H2539.85V2487.91H2544.05V2487.91H2548.25V2485.07H2552.44V2476.98H2556.64V2484.19H2560.83V2485.07H2565.03V2481.35H2569.22V2487.91H2573.42V2487.91H2577.62V2480.70H2581.81V2477.64H2586.01V2481.35H2590.20V2481.79H2594.40V2477.42H2598.59V2489.00Z" fill="#363636" shape-rendering="crispEdges"/>
<rect x="37.5" y="2488.00" width="2586.30" height="4" fill="#000"/>
<rect x="192.40" y="2492.00" width="4" height="14.50" fill="#000"/>
<rect x="319.70" y="2492.00" width="4" height="14.50" fill="#000"/>
<rect x="446.00" y="2492.00" width="4" height="14.50" fill="#000"/>
<rect x="576.10" y="2492.00" width="4" height="14.50" fill="#000"/>
<rect x="701.50" y="2492.00" width="4" height="14.50" fill="#000"/>
<rect x="831.10" y="2492.00" width="4" height="14.50" fill="#000"/>
<rect x="960.60" y="2492.00" width="4" height="14.50" fill="#000"/>
<rect x="1086.00" y="2492.00" width="4" height="14.50" fill="#000"/>
<rect x="1218.00" y="2492.00" width="4" height="14.50" fill="#000"/>
<rect x="1342.80" y="2492.00" width="4" height="14.50" fill="#000"/>
<rect x="1473.30" y="2492.00" width="4" height="14.50" fill="#000"/>
<rect x="1605.00" y="2492.00" width="4" height="14.50" fill="#000"/>
<rect x="1719.90" y="2492.00" width="4" height="14.50" fill="#000"/>
<rect x="1850.00" y="2492.00" width="4" height="14.50" fill="#000"/>
<rect x="1976.00" y="2492.00" width="4" height="14.50" fill="#000"/>
<rect x="2107.80" y="2492.00" width="4" height="14.50" fill="#000"/>
<rect x="2235.10" y="2492.00" width="4" height="14.50" fill="#000"/>
<rect x="2364.00" y="2492.00" width="4" height="14.50" fill="#000"/>
<rect x="2493.80" y="2492.00" width="4" height="14.50" fill="#000"/>
<path d="M2540 377.60H2576.00A21 21 0 0 1 2597 398.60V1449.43" fill="none" stroke="#000" stroke-width="2"/>
<path d="M2540 1828.00H2576.00A21 21 0 0 1 2597 1849.00V2477.42" fill="none" stroke="#000" stroke-width="2"/>
<g>
<ellipse cx="2585.35" cy="2739.55" rx="39.95" ry="23.75" fill="none" stroke="#111" stroke-width="3"/>
<path fill="#111" fill-rule="evenodd" d="M2553.4 2727.5H2564A10.3 10.3 0 0 1 2564 2748.1H2559.8V2754.6H2553.4Z M2568.2 2737.8A4.2 4.2 0 1 0 2559.8 2737.8A4.2 4.2 0 1 0 2568.2 2737.8Z"/>
<path fill="#111" fill-rule="evenodd" d="M2595.9 2727.5V2748.1H2585.4A10.3 10.3 0 0 1 2585.4 2727.5Z M2589.2 2737.8A3.8 3.8 0 1 0 2581.6 2737.8A3.8 3.8 0 1 0 2589.2 2737.8Z"/>
<path fill="#111" fill-rule="evenodd" d="M2598.9 2727.5H2609.6A10.3 10.3 0 0 1 2609.6 2748.1H2605.5V2754.6H2598.9Z M2613.5 2737.8A3.9 3.9 0 1 0 2605.7 2737.8A3.9 3.9 0 1 0 2613.5 2737.8Z"/>
</g>
</svg>
<div class="t" style="left:40.4px;top:77.3px;font-size:101.2px;font-weight:700;color:#000;transform:scaleX(0.9604);transform-origin:0 0;-webkit-text-stroke:2.4px #000">Koronawirus w Polsce</div><div class="t" style="left:42.9px;top:214.4px;font-size:49.2px;font-weight:700;color:#000;transform:scaleX(0.9514);transform-origin:0 0;-webkit-text-stroke:1.1px #000">POTWIERDZONE PRZYPADKI KORONAWIRUSA SARS-COV-2 WEDŁUG DNI</div><div class="t" style="left:42.9px;top:292.7px;font-size:45.3px;font-weight:400;color:#4a4a4a;transform:scaleX(0.947);transform-origin:0 0">Stan na 25 września 2021 r. godz. 10:30</div><div class="t" style="left:47.4px;top:1622.4px;font-size:49.2px;font-weight:700;color:#000;transform:scaleX(0.9514);transform-origin:0 0;-webkit-text-stroke:1.1px #000">POTWIERDZONE PRZYPADKI ŚMIERTELNE KORONAWIRUSA SARS-COV-2 WEDŁUG DNI</div><div class="t" style="left:46.6px;top:1700.7px;font-size:45.3px;font-weight:400;color:#4a4a4a;transform:scaleX(0.947);transform-origin:0 0">Stan na 25 września 2021 r. godz. 10:30</div><div class="t" style="left:43.8px;top:2625.8px;font-size:46.3px;font-weight:400;color:#6e6e6e;transform:scaleX(0.979);transform-origin:0 0">Źródło: Ministerstwo Zdrowia</div><div class="t" style="right:2505.7px;top:392.8px;font-size:41.4px;font-weight:400;color:#4a4a4a;transform:scaleX(0.96);transform-origin:100% 0">35 000</div><div class="t" style="right:2505.7px;top:540.8px;font-size:41.4px;font-weight:400;color:#4a4a4a;transform:scaleX(0.96);transform-origin:100% 0">30 000</div><div class="t" style="right:2505.7px;top:688.8px;font-size:41.4px;font-weight:400;color:#4a4a4a;transform:scaleX(0.96);transform-origin:100% 0">25 000</div><div class="t" style="right:2505.7px;top:836.8px;font-size:41.4px;font-weight:400;color:#4a4a4a;transform:scaleX(0.96);transform-origin:100% 0">20 000</div><div class="t" style="right:2505.7px;top:984.9px;font-size:41.4px;font-weight:400;color:#4a4a4a;transform:scaleX(0.96);transform-origin:100% 0">15 000</div><div class="t" style="right:2505.7px;top:1132.9px;font-size:41.4px;font-weight:400;color:#4a4a4a;transform:scaleX(0.96);transform-origin:100% 0">10 000</div><div class="t" style="right:2505.7px;top:1280.9px;font-size:41.4px;font-weight:400;color:#4a4a4a;transform:scaleX(0.96);transform-origin:100% 0">5 000</div><div class="t" style="right:2505.7px;top:1429.0px;font-size:41.4px;font-weight:400;color:#4a4a4a;transform:scaleX(0.96);transform-origin:100% 0">0</div><div class="t" style="right:2505.7px;top:1822.0px;font-size:41.4px;font-weight:400;color:#4a4a4a;transform:scaleX(0.96);transform-origin:100% 0">1 000</div><div class="t" style="right:2505.7px;top:1945.4px;font-size:41.4px;font-weight:400;color:#4a4a4a;transform:scaleX(0.96);transform-origin:100% 0">800</div><div class="t" style="right:2505.7px;top:2068.8px;font-size:41.4px;font-weight:400;color:#4a4a4a;transform:scaleX(0.96);transform-origin:100% 0">600</div><div class="t" style="right:2505.7px;top:2192.2px;font-size:41.4px;font-weight:400;color:#4a4a4a;transform:scaleX(0.96);transform-origin:100% 0">400</div><div class="t" style="right:2505.7px;top:2315.6px;font-size:41.4px;font-weight:400;color:#4a4a4a;transform:scaleX(0.96);transform-origin:100% 0">200</div><div class="t" style="right:2505.7px;top:2439.0px;font-size:41.4px;font-weight:400;color:#4a4a4a;transform:scaleX(0.96);transform-origin:100% 0">0</div><div class="t" style="left:88.9px;width:200px;text-align:center;top:1507.0px;font-size:41.4px;font-weight:400;color:#4a4a4a;transform:scaleX(0.935);transform-origin:50% 0">1.03</div><div class="t" style="left:88.9px;width:200px;text-align:center;top:2520.0px;font-size:41.4px;font-weight:400;color:#4a4a4a;transform:scaleX(0.935);transform-origin:50% 0">1.03</div><div class="t" style="left:222.2px;width:200px;text-align:center;top:1507.0px;font-size:41.4px;font-weight:400;color:#4a4a4a;transform:scaleX(0.935);transform-origin:50% 0">1.04</div><div class="t" style="left:222.2px;width:200px;text-align:center;top:2520.0px;font-size:41.4px;font-weight:400;color:#4a4a4a;transform:scaleX(0.935);transform-origin:50% 0">1.04</div><div class="t" style="left:348.5px;width:200px;text-align:center;top:1507.0px;font-size:41.4px;font-weight:400;color:#4a4a4a;transform:scaleX(0.935);transform-origin:50% 0">1.05</div><div class="t" style="left:348.5px;width:200px;text-align:center;top:2520.0px;font-size:41.4px;font-weight:400;color:#4a4a4a;transform:scaleX(0.935);transform-origin:50% 0">1.05</div><div class="t" style="left:478.6px;width:200px;text-align:center;top:1507.0px;font-size:41.4px;font-weight:400;color:#4a4a4a;transform:scaleX(0.935);transform-origin:50% 0">1.06</div><div class="t" style="left:478.6px;width:200px;text-align:center;top:2520.0px;font-size:41.4px;font-weight:400;color:#4a4a4a;transform:scaleX(0.935);transform-origin:50% 0">1.06</div><div class="t" style="left:604.0px;width:200px;text-align:center;top:1507.0px;font-size:41.4px;font-weight:400;color:#4a4a4a;transform:scaleX(0.935);transform-origin:50% 0">1.07</div><div class="t" style="left:604.0px;width:200px;text-align:center;top:2520.0px;font-size:41.4px;font-weight:400;color:#4a4a4a;transform:scaleX(0.935);transform-origin:50% 0">1.07</div><div class="t" style="left:733.6px;width:200px;text-align:center;top:1507.0px;font-size:41.4px;font-weight:400;color:#4a4a4a;transform:scaleX(0.935);transform-origin:50% 0">1.08</div><div class="t" style="left:733.6px;width:200px;text-align:center;top:2520.0px;font-size:41.4px;font-weight:400;color:#4a4a4a;transform:scaleX(0.935);transform-origin:50% 0">1.08</div><div class="t" style="left:863.1px;width:200px;text-align:center;top:1507.0px;font-size:41.4px;font-weight:400;color:#4a4a4a;transform:scaleX(0.935);transform-origin:50% 0">1.09</div><div class="t" style="left:863.1px;width:200px;text-align:center;top:2520.0px;font-size:41.4px;font-weight:400;color:#4a4a4a;transform:scaleX(0.935);transform-origin:50% 0">1.09</div><div class="t" style="left:988.5px;width:200px;text-align:center;top:1507.0px;font-size:41.4px;font-weight:400;color:#4a4a4a;transform:scaleX(0.935);transform-origin:50% 0">1.10</div><div class="t" style="left:988.5px;width:200px;text-align:center;top:2520.0px;font-size:41.4px;font-weight:400;color:#4a4a4a;transform:scaleX(0.935);transform-origin:50% 0">1.10</div><div class="t" style="left:1120.5px;width:200px;text-align:center;top:1507.0px;font-size:41.4px;font-weight:400;color:#4a4a4a;transform:scaleX(0.935);transform-origin:50% 0">1.11</div><div class="t" style="left:1120.5px;width:200px;text-align:center;top:2520.0px;font-size:41.4px;font-weight:400;color:#4a4a4a;transform:scaleX(0.935);transform-origin:50% 0">1.11</div><div class="t" style="left:1245.3px;width:200px;text-align:center;top:1507.0px;font-size:41.4px;font-weight:400;color:#4a4a4a;transform:scaleX(0.935);transform-origin:50% 0">1.12</div><div class="t" style="left:1245.3px;width:200px;text-align:center;top:2520.0px;font-size:41.4px;font-weight:400;color:#4a4a4a;transform:scaleX(0.935);transform-origin:50% 0">1.12</div><div class="t" style="left:1375.8px;width:200px;text-align:center;top:1507.0px;font-size:41.4px;font-weight:400;color:#4a4a4a;transform:scaleX(0.935);transform-origin:50% 0">1.01</div><div class="t" style="left:1375.8px;width:200px;text-align:center;top:2520.0px;font-size:41.4px;font-weight:400;color:#4a4a4a;transform:scaleX(0.935);transform-origin:50% 0">1.01</div><div class="t" style="left:1507.5px;width:200px;text-align:center;top:1507.0px;font-size:41.4px;font-weight:400;color:#4a4a4a;transform:scaleX(0.935);transform-origin:50% 0">1.02</div><div class="t" style="left:1507.5px;width:200px;text-align:center;top:2520.0px;font-size:41.4px;font-weight:400;color:#4a4a4a;transform:scaleX(0.935);transform-origin:50% 0">1.02</div><div class="t" style="left:1622.4px;width:200px;text-align:center;top:1507.0px;font-size:41.4px;font-weight:400;color:#4a4a4a;transform:scaleX(0.935);transform-origin:50% 0">1.03</div><div class="t" style="left:1622.4px;width:200px;text-align:center;top:2520.0px;font-size:41.4px;font-weight:400;color:#4a4a4a;transform:scaleX(0.935);transform-origin:50% 0">1.03</div><div class="t" style="left:1752.5px;width:200px;text-align:center;top:1507.0px;font-size:41.4px;font-weight:400;color:#4a4a4a;transform:scaleX(0.935);transform-origin:50% 0">1.04</div><div class="t" style="left:1752.5px;width:200px;text-align:center;top:2520.0px;font-size:41.4px;font-weight:400;color:#4a4a4a;transform:scaleX(0.935);transform-origin:50% 0">1.04</div><div class="t" style="left:1878.5px;width:200px;text-align:center;top:1507.0px;font-size:41.4px;font-weight:400;color:#4a4a4a;transform:scaleX(0.935);transform-origin:50% 0">1.05</div><div class="t" style="left:1878.5px;width:200px;text-align:center;top:2520.0px;font-size:41.4px;font-weight:400;color:#4a4a4a;transform:scaleX(0.935);transform-origin:50% 0">1.05</div><div class="t" style="left:2010.3px;width:200px;text-align:center;top:1507.0px;font-size:41.4px;font-weight:400;color:#4a4a4a;transform:scaleX(0.935);transform-origin:50% 0">1.06</div><div class="t" style="left:2010.3px;width:200px;text-align:center;top:2520.0px;font-size:41.4px;font-weight:400;color:#4a4a4a;transform:scaleX(0.935);transform-origin:50% 0">1.06</div><div class="t" style="left:2137.6px;width:200px;text-align:center;top:1507.0px;font-size:41.4px;font-weight:400;color:#4a4a4a;transform:scaleX(0.935);transform-origin:50% 0">1.07</div><div class="t" style="left:2137.6px;width:200px;text-align:center;top:2520.0px;font-size:41.4px;font-weight:400;color:#4a4a4a;transform:scaleX(0.935);transform-origin:50% 0">1.07</div><div class="t" style="left:2266.5px;width:200px;text-align:center;top:1507.0px;font-size:41.4px;font-weight:400;color:#4a4a4a;transform:scaleX(0.935);transform-origin:50% 0">1.08</div><div class="t" style="left:2266.5px;width:200px;text-align:center;top:2520.0px;font-size:41.4px;font-weight:400;color:#4a4a4a;transform:scaleX(0.935);transform-origin:50% 0">1.08</div><div class="t" style="left:2396.3px;width:200px;text-align:center;top:1507.0px;font-size:41.4px;font-weight:400;color:#4a4a4a;transform:scaleX(0.935);transform-origin:50% 0">1.09</div><div class="t" style="left:2396.3px;width:200px;text-align:center;top:2520.0px;font-size:41.4px;font-weight:400;color:#4a4a4a;transform:scaleX(0.935);transform-origin:50% 0">1.09</div><div class="t" style="right:139.5px;top:346.6px;font-size:59.5px;font-weight:700;color:#000;transform:scaleX(1.02);transform-origin:100% 0">917</div><div class="t" style="right:139.2px;top:1796.6px;font-size:59.5px;font-weight:700;color:#000;transform:scaleX(1.03);transform-origin:100% 0">20</div>
</body></html>
